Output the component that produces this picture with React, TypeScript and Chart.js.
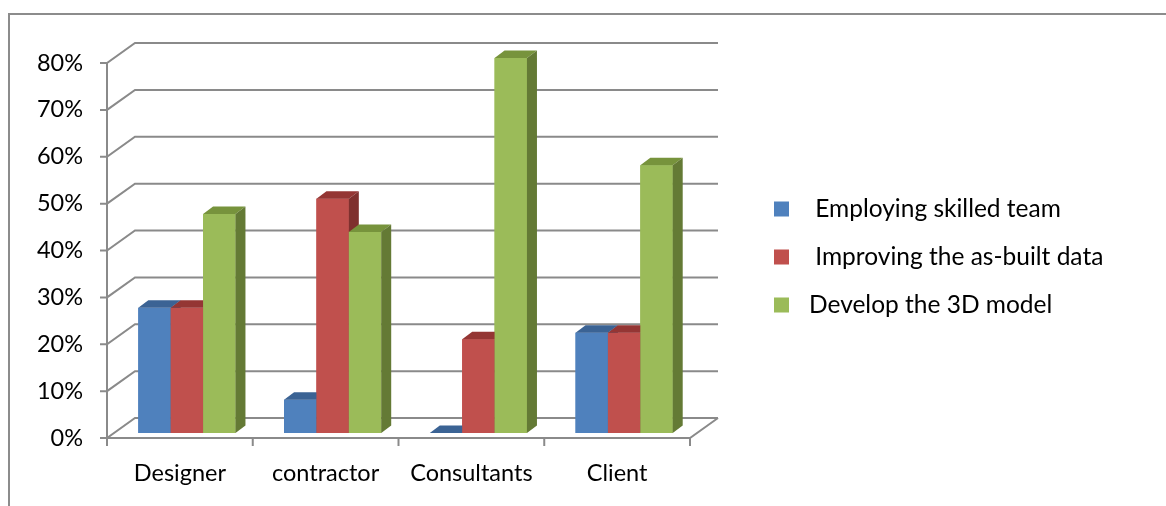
import React, { useEffect, useRef } from 'react';
import { Chart, registerables } from 'chart.js';

Chart.register(...registerables);

const categories = ['Designer', 'contractor', 'Consultants', 'Client'];
const seriesLabels = [' Employing skilled team', ' Improving the as-built data', 'Develop the 3D model'];
const employingSkilledTeam = [0.267, 0.071, 0, 0.214];
const improvingAsBuiltData = [0.267, 0.5, 0.2, 0.214];
const developThe3DModel = [0.467, 0.429, 0.8, 0.571];
const yTickValues = [0, 0.1, 0.2, 0.3, 0.4, 0.5, 0.6, 0.7, 0.8];
const yTickLabels = ['0%', '10%', '20%', '30%', '40%', '50%', '60%', '70%', '80%'];

const frontColors = ['#4f81bd', '#c0504d', '#9bbb59'];
const topColors = ['#3b6394', '#943634', '#77933c'];
const sideColors = ['#385d8a', '#7f302e', '#647a35'];

const FONT = 'Lato, "Open Sans", sans-serif';
const FRONT = { dx: -7, dy: 5 };
const BACK = { dx: 21, dy: -15 };
const DEPTH = { dx: 10, dy: -7.5 };
const GRID = '#8a8a8a';

const threeD = {
  id: 'threeD',
  beforeDatasetsDraw(chart: any) {
    const ctx = chart.ctx;
    const a = chart.chartArea;
    const y = chart.scales.y;
    const x = chart.scales.x;
    ctx.save();
    // frame
    ctx.strokeStyle = '#8c8c8c';
    ctx.lineWidth = 2;
    ctx.beginPath();
    ctx.moveTo(9, 506);
    ctx.lineTo(9, 14);
    ctx.lineTo(1166, 14);
    ctx.stroke();

    ctx.strokeStyle = GRID;
    ctx.lineWidth = 2;
    ctx.lineCap = 'butt';
    const fl = a.left + FRONT.dx;
    const fr = a.right + FRONT.dx;
    yTickValues.forEach((v) => {
      const py = y.getPixelForValue(v);
      ctx.beginPath();
      ctx.moveTo(fl - 7, py + FRONT.dy);
      ctx.lineTo(fl, py + FRONT.dy);
      ctx.lineTo(a.left + BACK.dx, py + BACK.dy);
      ctx.lineTo(a.right + BACK.dx, py + BACK.dy);
      ctx.stroke();
    });
    // front vertical axis
    const top = y.getPixelForValue(0.8);
    const bot = y.getPixelForValue(0);
    ctx.beginPath();
    ctx.moveTo(fl, top + FRONT.dy);
    ctx.lineTo(fl, bot + FRONT.dy);
    ctx.lineTo(fr, bot + FRONT.dy);
    ctx.lineTo(a.right + BACK.dx, bot + BACK.dy);
    ctx.stroke();
    // category ticks
    const n = categories.length;
    const cw = (a.right - a.left) / n;
    for (let i = 0; i <= n; i++) {
      const px = x.getPixelForValue(0) - cw / 2 + i * cw + FRONT.dx;
      ctx.beginPath();
      ctx.moveTo(px, bot + FRONT.dy);
      ctx.lineTo(px, bot + FRONT.dy + 8);
      ctx.stroke();
    }
    // labels
    ctx.fillStyle = '#000';
    ctx.font = '23.5px ' + FONT;
    ctx.textBaseline = 'middle';
    ctx.textAlign = 'right';
    yTickValues.forEach((v, i) => {
      ctx.fillText(yTickLabels[i], fl - 24, y.getPixelForValue(v) + FRONT.dy);
    });
    ctx.textAlign = 'center';
    categories.forEach((c, i) => {
      ctx.fillText(c, x.getPixelForValue(i) + FRONT.dx, 473);
    });
    ctx.restore();
  },
  afterDatasetsDraw(chart: any) {
    const ctx = chart.ctx;
    ctx.save();
    const n = categories.length;
    for (let c = 0; c < n; c++) {
      for (let d = 0; d < chart.data.datasets.length; d++) {
        const el = chart.getDatasetMeta(d).data[c];
        if (!el) continue;
        const { x, y, base, width } = el.getProps(['x', 'y', 'base', 'width'], true);
        const x1 = x - width / 2;
        const x2 = x + width / 2;
        ctx.fillStyle = frontColors[d];
        ctx.fillRect(x1, y, width, base - y);
        ctx.fillStyle = topColors[d];
        ctx.beginPath();
        ctx.moveTo(x1, y);
        ctx.lineTo(x2, y);
        ctx.lineTo(x2 + DEPTH.dx, y + DEPTH.dy);
        ctx.lineTo(x1 + DEPTH.dx, y + DEPTH.dy);
        ctx.closePath();
        ctx.fill();
        ctx.fillStyle = sideColors[d];
        ctx.beginPath();
        ctx.moveTo(x2, y);
        ctx.lineTo(x2 + DEPTH.dx, y + DEPTH.dy);
        ctx.lineTo(x2 + DEPTH.dx, base + DEPTH.dy);
        ctx.lineTo(x2, base);
        ctx.closePath();
        ctx.fill();
      }
    }
    ctx.restore();
  },
  afterDraw(chart: any) {
    const ctx = chart.ctx;
    ctx.save();
    ctx.font = '24.5px ' + FONT;
    ctx.textBaseline = 'middle';
    ctx.textAlign = 'left';
    chart.data.datasets.forEach((ds: any, i: number) => {
      const cy = 209 + i * 48;
      ctx.fillStyle = frontColors[i];
      ctx.fillRect(774, cy - 7.5, 15, 15);
      ctx.fillStyle = '#000';
      ctx.fillText(ds.label, 809, cy);
    });
    ctx.restore();
  },
};

export default function App() {
  const ref = useRef<HTMLCanvasElement>(null);
  useEffect(() => {
    if (!ref.current) return;
    const chart = new Chart(ref.current, {
      type: 'bar',
      data: {
        labels: categories,
        datasets: [
          { label: seriesLabels[0], data: employingSkilledTeam, backgroundColor: frontColors[0] },
          { label: seriesLabels[1], data: improvingAsBuiltData, backgroundColor: frontColors[1] },
          { label: seriesLabels[2], data: developThe3DModel, backgroundColor: frontColors[2] },
        ],
      },
      options: {
        animation: false,
        responsive: false,
        devicePixelRatio: 1,
        layout: { padding: { left: 114, right: 469, top: 58, bottom: 73 } },
        datasets: { bar: { categoryPercentage: 2 / 3, barPercentage: 1 } },
        plugins: { legend: { display: false }, tooltip: { enabled: false }, title: { display: false } },
        scales: {
          x: { display: false, offset: true },
          y: { display: false, min: 0, max: 0.8 },
        },
      },
      plugins: [threeD],
    });
    return () => chart.destroy();
  }, []);
  return (
    <div style={{ position: 'fixed', left: 0, top: 0, width: 1166, height: 506, background: '#fff' }}>
      <canvas ref={ref} width={1166} height={506} />
    </div>
  );
}
